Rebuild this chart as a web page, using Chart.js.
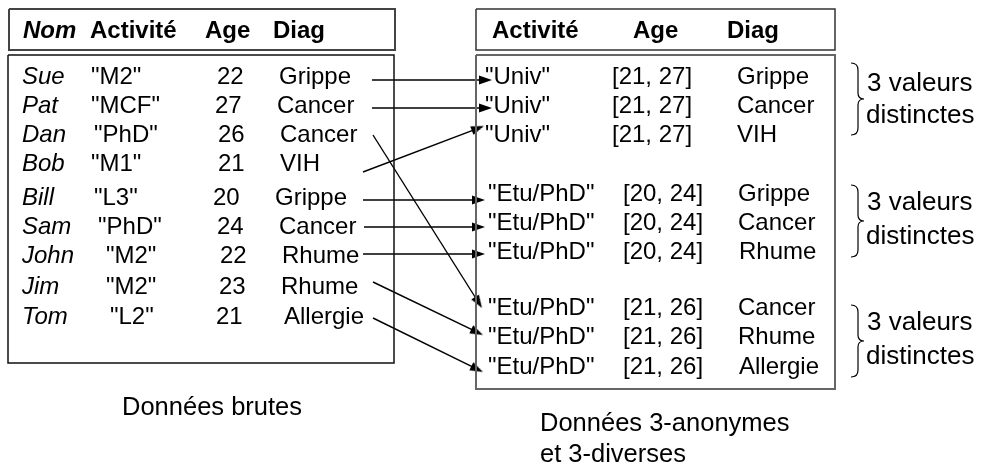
<!DOCTYPE html>
<html>
<head>
<meta charset="utf-8">
<style>
  html, body { margin: 0; padding: 0; background: #fff; }
  canvas { display: block; }
</style>
</head>
<body>
<canvas id="diagram" width="984" height="470"></canvas>
<script src="https://cdn.jsdelivr.net/npm/chart.js@4.4.1/dist/chart.umd.min.js"></script>
<script>
// raw table
const headers = ['Nom', 'Activité', 'Age', 'Diag'];
const names = ['Sue', 'Pat', 'Dan', 'Bob', 'Bill', 'Sam', 'John', 'Jim', 'Tom'];
const activites = ['"M2"', '"MCF"', '"PhD"', '"M1"', '"L3"', '"PhD"', '"M2"', '"M2"', '"L2"'];
const ages = ['22', '27', '26', '21', '20', '24', '22', '23', '21'];
const diags = ['Grippe', 'Cancer', 'Cancer', 'VIH', 'Grippe', 'Cancer', 'Rhume', 'Rhume', 'Allergie'];

// anonymised table
const anonHeaders = ['Activité', 'Age', 'Diag'];
const anonActivites = ['"Univ"', '"Univ"', '"Univ"', '"Etu/PhD"', '"Etu/PhD"', '"Etu/PhD"', '"Etu/PhD"', '"Etu/PhD"', '"Etu/PhD"'];
const anonAges = ['[21, 27]', '[21, 27]', '[21, 27]', '[20, 24]', '[20, 24]', '[20, 24]', '[21, 26]', '[21, 26]', '[21, 26]'];
const anonDiags = ['Grippe', 'Cancer', 'VIH', 'Grippe', 'Cancer', 'Rhume', 'Cancer', 'Rhume', 'Allergie'];

// which anonymised row each raw row goes to
const links = [0, 1, 6, 2, 3, 4, 5, 7, 8];

const groupLabel = ['3 valeurs', 'distinctes'];
const captionLeft = 'Données brutes';
const captionRight = ['Données 3-anonymes', 'et 3-diverses'];

// ---- layout (pixels, scales are 1:1 with the canvas) ----
const rowY = [77, 106, 135, 164, 198, 227, 256, 287, 317];
const colNameX = 22;
const colActX = [91, 91, 94, 91, 94, 98, 106, 106, 110];
const colAgeX = [217, 215, 218, 218, 213, 217, 220, 219, 216];
const colDiagX = [279, 277, 280, 280, 275, 279, 282, 281, 284];
const headerX = [23, 90, 205, 273];
const headerY = 31;

const anonY = [77, 106, 135, 194, 223, 252, 308, 337, 367];
const anonActX = [485, 485, 485, 488, 488, 488, 488, 488, 488];
const anonAgeX = [612, 612, 612, 623, 623, 623, 623, 623, 623];
const anonDiagX = [737, 737, 737, 738, 738, 739, 738, 738, 739];
const anonHeaderX = [492, 633, 727];

// arrow start / tip, in raw-row order
const arrowStart = [[372, 80], [372, 108], [373, 135], [363, 172], [363, 200], [364, 227], [363, 254], [373, 282], [373, 318]];
const arrowTip = [[492, 80], [492, 108], [482, 308], [484, 126], [485, 200], [485, 227], [485, 254], [483, 335], [483, 372]];

const braceTop = [63, 185, 305];
const braceLabelY = [[84, 116], [203, 237], [323, 357]];

const FONT = '"Liberation Sans", Arial, sans-serif';

function rect(x0, y0, x1, y1) {
  return [{x: x0, y: y0}, {x: x1, y: y0}, {x: x1, y: y1}, {x: x0, y: y1}, {x: x0, y: y0}];
}

function boxDataset(pts, color, width) {
  return {
    data: pts, showLine: true, fill: false, borderColor: color, borderWidth: width,
    pointRadius: 0, borderJoinStyle: 'miter', clip: false, tension: 0
  };
}

// narrow arrowhead used as point style, pointing right at rotation 0
const HEAD_LEN = 13, HEAD_W = 10;
const head = document.createElement('canvas');
head.width = HEAD_LEN;
head.height = HEAD_W;
(function () {
  const g = head.getContext('2d');
  g.fillStyle = '#000';
  g.beginPath();
  g.moveTo(0, 0.5);
  g.lineTo(HEAD_LEN, HEAD_W / 2);
  g.lineTo(0, HEAD_W - 0.5);
  g.closePath();
  g.fill();
})();

const datasets = [
  boxDataset(rect(9, 9, 395, 50), '#444', 2),
  boxDataset(rect(8, 55, 394, 363), '#111', 1.5),
  boxDataset(rect(476, 9, 835, 50), '#333', 1.5),
  boxDataset(rect(476, 55, 835, 389), '#666', 2)
];

links.forEach((target, i) => {
  const [sx, sy] = arrowStart[i];
  const [tx, ty] = arrowTip[i];
  const dx = tx - sx, dy = ty - sy;
  const len = Math.hypot(dx, dy);
  const cx = tx - (HEAD_LEN / 2) * dx / len, cy = ty - (HEAD_LEN / 2) * dy / len;
  const rot = Math.atan2(dy, dx) * 180 / Math.PI;
  datasets.push({
    label: names[i] + ' -> ' + anonActivites[target] + ' ' + anonDiags[target],
    data: [{x: sx, y: sy}, {x: cx, y: cy}],
    showLine: true, fill: false, borderColor: '#000', borderWidth: 1.4,
    pointStyle: head, pointRadius: [0, 5], pointRotation: [0, rot],
    clip: false
  });
});

// all text items drawn on top, positioned through the scales
const texts = [];
headers.forEach((h, i) => texts.push({t: h, x: headerX[i], y: headerY, f: (i === 0 ? 'italic bold ' : 'bold ') + '24px ' + FONT}));
names.forEach((n, i) => {
  texts.push({t: n, x: colNameX, y: rowY[i], f: 'italic 24px ' + FONT});
  texts.push({t: activites[i], x: colActX[i], y: rowY[i], f: '24px ' + FONT});
  texts.push({t: ages[i], x: colAgeX[i], y: rowY[i], f: '24px ' + FONT});
  texts.push({t: diags[i], x: colDiagX[i], y: rowY[i], f: '24px ' + FONT});
});
anonHeaders.forEach((h, i) => texts.push({t: h, x: anonHeaderX[i], y: headerY, f: 'bold 24px ' + FONT}));
anonActivites.forEach((a, i) => {
  texts.push({t: a, x: anonActX[i], y: anonY[i], f: '24px ' + FONT});
  texts.push({t: anonAges[i], x: anonAgeX[i], y: anonY[i], f: '24px ' + FONT});
  texts.push({t: anonDiags[i], x: anonDiagX[i], y: anonY[i], f: '24px ' + FONT});
});
braceLabelY.forEach(([y1, y2]) => {
  texts.push({t: groupLabel[0], x: 867, y: y1, f: '26px ' + FONT});
  texts.push({t: groupLabel[1], x: 866, y: y2, f: '26px ' + FONT});
});
texts.push({t: captionLeft, x: 122, y: 408, f: '25.5px ' + FONT});
texts.push({t: captionRight[0], x: 540, y: 424, f: '25.5px ' + FONT});
texts.push({t: captionRight[1], x: 540, y: 455, f: '25.5px ' + FONT});

const overlay = {
  id: 'overlay',
  beforeDraw(chart) {
    const c = chart.ctx;
    c.save();
    c.fillStyle = '#fff';
    c.fillRect(0, 0, chart.width, chart.height);
    c.restore();
  },
  afterDatasetsDraw(chart) {
    const c = chart.ctx;
    const sx = chart.scales.x, sy = chart.scales.y;
    const px = v => sx.getPixelForValue(v);
    const py = v => sy.getPixelForValue(v);
    c.save();
    c.fillStyle = '#000';
    c.textBaseline = 'middle';
    c.textAlign = 'left';
    texts.forEach(o => {
      c.font = o.f;
      c.fillText(o.t, px(o.x), py(o.y));
    });
    // braces
    c.strokeStyle = '#000';
    c.lineWidth = 1.2;
    braceTop.forEach(top => {
      const mid = top + 36, bot = top + 72;
      c.beginPath();
      c.moveTo(px(851), py(top));
      c.quadraticCurveTo(px(858), py(top), px(858), py(top + 7));
      c.lineTo(px(858), py(mid - 6));
      c.quadraticCurveTo(px(858), py(mid), px(864), py(mid));
      c.quadraticCurveTo(px(858), py(mid), px(858), py(mid + 6));
      c.lineTo(px(858), py(bot - 7));
      c.quadraticCurveTo(px(858), py(bot), px(851), py(bot));
      c.stroke();
    });
    c.restore();
  }
};

new Chart(document.getElementById('diagram'), {
  type: 'scatter',
  data: {datasets},
  options: {
    responsive: false,
    animation: false,
    layout: {padding: 0, autoPadding: false},
    plugins: {legend: {display: false}, tooltip: {enabled: false}},
    scales: {
      x: {type: 'linear', min: 0, max: 984, display: false},
      y: {type: 'linear', min: 0, max: 470, reverse: true, display: false}
    }
  },
  plugins: [overlay]
});
</script>
</body>
</html>
